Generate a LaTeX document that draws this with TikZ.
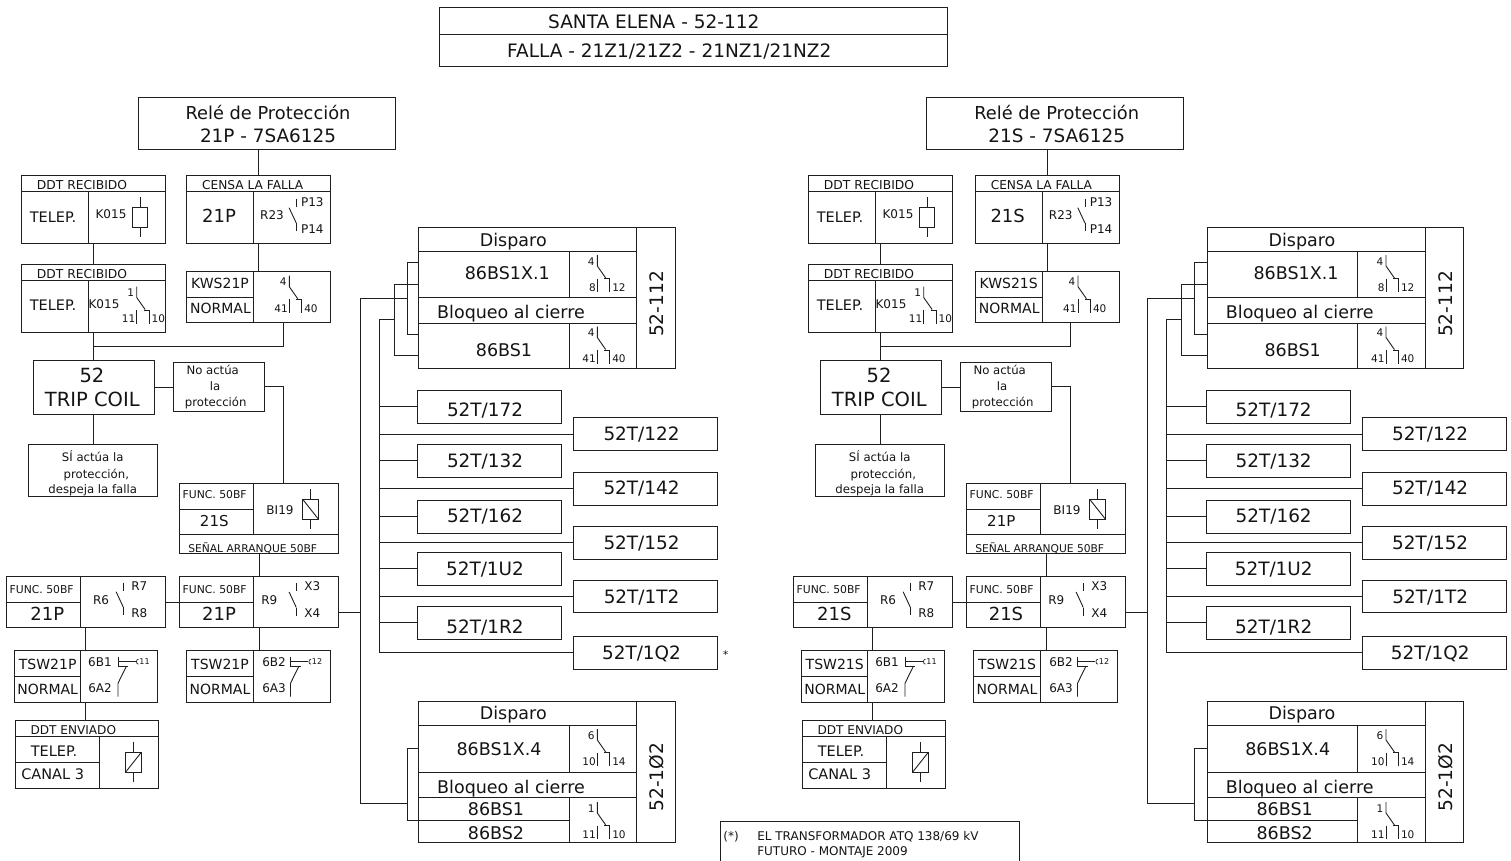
\documentclass[tikz,border=0pt]{standalone}
\usepackage{fontspec}
\setmainfont{DejaVu Sans}
\newcounter{tn}
\tikzset{
  every picture/.style={x=1pt,y=-1pt},
  ink/.style={draw=black!88,line width=0.9pt},
  bxs/.style={ink,rectangle,inner sep=0pt,outer sep=0pt},
  wire/.style={ink,line cap=butt,line join=miter},
}
% box: name x1 y1 x2 y2
\newcommand\bxx[5]{\node[bxs,minimum width={(#4-(#2))*1pt},minimum height={(#5-(#3))*1pt}] (#1) at ({(#2+#4)/2},{(#3+#5)/2}) {};}
% divider: x1 y1 x2 y2
\newcommand\dv[4]{\draw[wire] (#1,#2) -- (#3,#4);}
% text: [anchor] x ycentre size text
\newcommand\lbl[5][base]{\stepcounter{tn}\node[anchor=#1,inner sep=0pt,outer sep=0pt,text=black!92] (t\number\value{tn}) at ({#2},{#3+0.36*#4}) {\fontsize{#4}{#4}\selectfont #5};}
\newcommand\rlbl[4]{\stepcounter{tn}\node[rotate=90,inner sep=0pt,outer sep=0pt,text=black!92] (t\number\value{tn}) at ({#1},{#2}) {\fontsize{#3}{#3}\selectfont #4};}
% changeover contact: x y top left right
\newcommand\ctc[5]{%
  \draw[wire] (#1,#2) -- (#1,#2+11) -- (#1+8.4,#2+23);
  \draw[wire] (#1,#2+23.5) -- (#1,#2+37);
  \draw[wire] (#1+6.8,#2+23.5) -- (#1+12.5,#2+23.5) -- (#1+12.5,#2+37);
  \lbl{#1-6}{#2+6.5}{10.5}{#3}
  \lbl[base east]{#1-1.5}{#2+32.6}{10.5}{#4}
  \lbl[base west]{#1+15}{#2+32.6}{10.5}{#5}
}
% open contact with ticks: x ycentre top bottom
\newcommand\opn[4]{%
  \draw[wire] (#1,#2-17) -- (#1,#2-9);
  \draw[wire] (#1,#2+7.5) -- (#1,#2+15.5);
  \draw[wire] (#1-7.2,#2-8) -- (#1,#2+7.5);
  \lbl{#1+16}{#2-14}{12}{#3}
  \lbl{#1+16}{#2+13.5}{12}{#4}
}
% test switch: x label
\newcommand\tsws[2]{%
  \draw[wire] (#1,656.7) -- (#1,666.7);
  \draw[wire] (#1,661.7) -- (#1+17.5,661.7);
  \draw[wire] (#1,666.7) -- (#1+10,666.7);
  \draw[wire] (#1+8,667) -- (#1,683.3) -- (#1,696.7);
  \draw[wire,line width=0.7pt] (#1+20.5,659.2) .. controls (#1+17.8,659.2) and (#1+17.8,664.2) .. (#1+20.5,664.2);
  \lbl{#1+26.5}{661.7}{8}{#2}
}
% 86 block + 52T boxes: prefix, eight label
\newcommand\blockb[2]{%
  \bxx{#1ba}{418.7}{227.7}{675}{368.3}
  \dv{418.7}{251.3}{636.7}{251.3}
  \dv{418.7}{297.3}{636.7}{297.3}
  \dv{418.7}{323}{636.7}{323}
  \dv{636.7}{227.7}{636.7}{368.3}
  \dv{569}{251.3}{569}{297.3}
  \dv{569}{323}{569}{368.3}
  \lbl{513.3}{240}{17.5}{Disparo}
  \lbl{507.3}{273.3}{17.5}{86BS1X.1}
  \lbl{511}{311.7}{17.5}{Bloqueo al cierre}
  \lbl{504}{350}{17.5}{86BS1}
  \rlbl{656.7}{304}{18.6}{52-112}
  \ctc{597.3}{255}{4}{#2}{12}
  \ctc{597.3}{326.5}{4}{41}{40}
  \bxx{#1bb}{418.7}{701.7}{675}{842.7}
  \dv{418.7}{725.7}{636.7}{725.7}
  \dv{418.7}{772}{636.7}{772}
  \dv{418.7}{797.3}{636.7}{797.3}
  \dv{418.7}{820}{569}{820}
  \dv{636.7}{701.7}{636.7}{842.7}
  \dv{569}{725.7}{569}{772}
  \dv{569}{797.3}{569}{842.7}
  \lbl{513.3}{713.3}{17.5}{Disparo}
  \lbl{499}{749.3}{17.5}{86BS1X.4}
  \lbl{511}{786.7}{17.5}{Bloqueo al cierre}
  \lbl{496}{809.3}{17.5}{86BS1}
  \lbl{496}{832.7}{17.5}{86BS2}
  \rlbl{656.7}{777.3}{18.6}{52-1Ø2}
  \ctc{597.3}{729}{6}{10}{14}
  \ctc{597.3}{802}{1}{11}{10}
  \bxx{#1a1}{417.3}{390.3}{561.3}{423.3}\lbl{485}{409.7}{18.4}{52T/172}
  \bxx{#1a2}{417.3}{444}{561.3}{477.5}\lbl{485}{461}{18.4}{52T/132}
  \bxx{#1a3}{417.3}{500}{561.3}{533}\lbl{485}{516}{18.4}{52T/162}
  \bxx{#1a4}{417.3}{552.3}{561.3}{585.3}\lbl{485}{569.3}{18.4}{52T/1U2}
  \bxx{#1a5}{417.3}{606}{561.3}{639.3}\lbl{485}{626.7}{18.4}{52T/1R2}
  \bxx{#1b1}{573.3}{417.3}{717.7}{450.7}\lbl{641.5}{434}{18.4}{52T/122}
  \bxx{#1b2}{573.3}{472}{717.7}{505}\lbl{641.5}{488}{18.4}{52T/142}
  \bxx{#1b3}{573.3}{526}{717.7}{559.3}\lbl{641.5}{543}{18.4}{52T/152}
  \bxx{#1b4}{573.3}{580}{717.7}{612.7}\lbl{641.5}{597}{18.4}{52T/1T2}
  \bxx{#1b5}{573.3}{636}{717.7}{669.3}\lbl{641.5}{653}{18.4}{52T/1Q2}
}
% Protection relay head, CENSA and KWS: prefix, letter
\newcommand\blockh[2]{%
  \bxx{#1re}{138}{97.7}{395}{149.3}
  \lbl{268}{113}{17.8}{Relé de Protección}
  \lbl{268}{136}{18.4}{21#2 - 7SA6125}
  \bxx{#1ce}{186.7}{175.5}{330.7}{243}
  \dv{186.7}{191.7}{330.7}{191.7}\dv{253.3}{191.7}{253.3}{243}
  \lbl{252.7}{184.7}{12.2}{CENSA LA FALLA}
  \lbl{219}{215.7}{18}{21#2}
  \lbl{272}{214.7}{12}{R23}
  \opn{296.3}{215.7}{P13}{P14}
  \bxx{#1kw}{186.7}{271.7}{330.7}{322.7}
  \dv{253.3}{271.7}{253.3}{322.7}\dv{186.7}{297}{253.3}{297}
  \lbl{220}{283.3}{14}{KWS21#2}
  \lbl{220.5}{308.3}{14}{NORMAL}
  \ctc{289.3}{275.7}{4}{41}{40}
}
% left-hand chain: prefix, own letter, other letter
\newcommand\blocka[3]{%
  \bxx{#1d1}{21.5}{175.5}{165}{243}
  \dv{21.5}{191.7}{165}{191.7}\dv{88}{191.7}{88}{243}
  \lbl{82}{184.7}{12.3}{DDT RECIBIDO}
  \lbl{53}{217}{14.5}{TELEP.}
  \lbl{111}{214}{12}{K015}
  \draw[ink] (132.7,207.7) rectangle (147.3,227);
  \dv{140}{197}{140}{207.7}\dv{140}{227}{140}{237}
  \bxx{#1d2}{21.5}{264.7}{165}{332}
  \dv{21.5}{280.7}{165}{280.7}\dv{88}{280.7}{88}{332}
  \lbl{82}{273.7}{12.3}{DDT RECIBIDO}
  \lbl{53}{305.7}{14.5}{TELEP.}
  \lbl{104}{304}{12}{K015}
  \ctc{136.7}{286.5}{1}{11}{10}
  \bxx{#1tr}{33.3}{360}{154.3}{414}
  \lbl{92}{375.7}{19.5}{52}
  \lbl{92.3}{399.3}{19.5}{TRIP COIL}
  \bxx{#1no}{173}{362.3}{264}{411}
  \lbl{212.7}{370.7}{11.7}{No actúa}
  \lbl{215}{386.7}{11.7}{la}
  \lbl{215.7}{402.7}{11.7}{protección}
  \bxx{#1si}{28.3}{444.3}{157.3}{496}
  \lbl{92.7}{457}{11.7}{SÍ actúa la}
  \lbl{96.3}{474}{11.7}{protección,}
  \lbl{92.7}{489}{11.7}{despeja la falla}
  \bxx{#1bi}{179.7}{483.3}{338.3}{553.3}
  \dv{179.7}{534.7}{338.3}{534.7}\dv{253.3}{483.3}{253.3}{534.7}\dv{179.7}{509}{253.3}{509}
  \lbl{214.7}{494.3}{10.8}{FUNC. 50BF}
  \lbl{214.3}{521.3}{15}{21#3}
  \lbl{280}{510}{12}{BI19}
  \lbl{252.7}{548.3}{10.7}{SEÑAL ARRANQUE 50BF}
  \draw[ink] (302.7,499.3) rectangle (318.3,519);
  \dv{302.7}{499.3}{318.3}{519}
  \dv{310.5}{489}{310.5}{499.3}\dv{310.5}{519}{310.5}{529.3}
  \bxx{#1f1}{6.3}{576.7}{165.3}{627.7}
  \dv{80.7}{576.7}{80.7}{627.7}\dv{6.3}{602.3}{80.7}{602.3}
  \lbl{41.7}{590}{10.8}{FUNC. 50BF}
  \lbl{47.3}{614.3}{18}{21#2}
  \lbl{101}{600}{12}{R6}
  \opn{123.3}{599.7}{R7}{R8}
  \bxx{#1f2}{179.7}{576.7}{338.3}{627.7}
  \dv{253.3}{576.7}{253.3}{627.7}\dv{179.7}{602.3}{253.3}{602.3}
  \lbl{214.7}{590}{10.8}{FUNC. 50BF}
  \lbl{219}{614.3}{18}{21#2}
  \lbl{269.3}{600}{12}{R9}
  \opn{296.3}{600}{X3}{X4}
  \bxx{#1s1}{14}{650.7}{157.7}{702.3}
  \dv{80.7}{650.7}{80.7}{702.3}\dv{14}{676.7}{80.7}{676.7}
  \lbl{47.7}{664.3}{14}{TSW21#2}
  \lbl{47.7}{689}{14}{NORMAL}
  \lbl{100}{662.3}{12}{6B1}
  \lbl{100}{688}{12}{6A2}
  \tsws{118}{11}
  \bxx{#1s2}{186.7}{650.7}{330.7}{702.3}
  \dv{253.3}{650.7}{253.3}{702.3}\dv{186.7}{676.7}{253.3}{676.7}
  \lbl{220}{664.3}{14}{TSW21#2}
  \lbl{220}{689}{14}{NORMAL}
  \lbl{274}{662.3}{12}{6B2}
  \lbl{274}{688}{12}{6A3}
  \tsws{290.5}{12}
  \bxx{#1de}{15}{720.7}{158.7}{788.3}
  \dv{15}{736.7}{158.7}{736.7}\dv{99.7}{736.7}{99.7}{788.3}\dv{15}{762.3}{99.7}{762.3}
  \lbl{73.3}{730}{12.1}{DDT ENVIADO}
  \lbl{54}{751}{14.5}{TELEP.}
  \lbl{52.7}{774.3}{14.5}{CANAL 3}
  \draw[ink] (125.7,752.7) rectangle (141,772);
  \dv{125.7}{772}{141}{752.7}
  \dv{133.3}{742.3}{133.3}{752.7}\dv{133.3}{772}{133.3}{782.3}
}
% connectors: prefix
\newcommand\links[1]{%
  \coordinate (#1kj) at (283,346);
  \coordinate (#1t1) at (360,298.3);
  \coordinate (#1t2) at (379,319.3);
  \coordinate (#1j1) at (407.3,262.3);
  \coordinate (#1j2) at (407.3,334);
  \coordinate (#1j3) at (394,284.3);
  \coordinate (#1j4) at (394,355);
  \coordinate (#1j5) at (407.3,748.3);
  \coordinate (#1j6) at (407.3,820);
  \coordinate (#1j7) at (407.3,803.3);
  \coordinate (#1x4) at (338.3,612.3);
  \draw[wire] (#1ce.north) -- (#1ce.north |- #1re.south);
  \draw[wire] (#1ce.south) -- (#1ce.south |- #1kw.north);
  \draw[wire] (#1d1.south) -- (#1d1.south |- #1d2.north);
  \draw[wire] (#1d2.south) -- (#1d2.south |- #1tr.north);
  \draw[wire] (#1kw.south -| #1kj) -- (#1kj) -- (#1kj -| #1d2.south);
  \draw[wire] (#1tr.south -| #1d2.south) -- (#1si.north -| #1d2.south);
  \draw[wire] (#1tr.east) -- (#1tr.east -| #1no.west);
  \draw[wire] (#1no.east) -| (#1bi.north -| #1kj);
  \draw[wire] (#1bi.south) -- (#1f2.north);
  \draw[wire] (#1f1.east) -- (#1f2.west);
  \draw[wire] (#1f1.south) -- (#1f1.south |- #1s1.north);
  \draw[wire] (#1f2.south) -- (#1f2.south |- #1s2.north);
  \draw[wire] (#1s1.south) -- (#1s1.south |- #1de.north);
  \draw[wire] (#1x4) -- (#1x4 -| #1t1);
  \draw[wire] (#1t1) -- (#1j7 -| #1t1) -- (#1j7);
  \draw[wire] (#1t1) -- (#1t1 -| #1j1);
  \draw[wire] (#1ba.west |- #1j1) -- (#1j1) -- (#1j2) -- (#1ba.west |- #1j2);
  \draw[wire] (#1ba.west |- #1j3) -- (#1j3) -- (#1j4) -- (#1ba.west |- #1j4);
  \draw[wire] (#1t2) -- (#1t2 -| #1j3);
  \draw[wire] (#1t2) -- (#1t2 |- #1b5.west) -- (#1b5.west);
  \foreach \n in {a1,a2,a3,a4,a5,b1,b2,b3,b4}{\draw[wire] (#1\n.west -| #1t2) -- (#1\n.west);}
  \draw[wire] (#1bb.west |- #1j5) -- (#1j5) -- (#1j6) -- (#1bb.west |- #1j6);
}
\begin{document}
\begin{tikzpicture}
\useasboundingbox (0,0) rectangle (1511,861);
% title
\bxx{title}{439}{7.5}{947}{66.3}
\dv{439}{34.8}{947}{34.8}
\lbl{653.8}{22.3}{18.5}{SANTA ELENA - 52-112}
\lbl{669.3}{50.7}{18.5}{FALLA - 21Z1/21Z2 - 21NZ1/21NZ2}
% left side
\blockh{L}{P}
\blockb{L}{8}
\blocka{L}{P}{S}
\links{L}
% asterisk and note
\lbl{725.7}{655}{10.5}{*}
\coordinate (ntl) at (720.7,821);
\coordinate (ntr) at (1019,821);
\coordinate (nbl) at (720.7,861);
\coordinate (nbr) at (1019,861);
\draw[wire] (nbl) -- (ntl) -- (ntr) -- (nbr);
\lbl{731}{836}{12}{(*)}
\lbl[base west]{757.3}{836}{12}{EL TRANSFORMADOR ATQ 138/69 kV}
\lbl[base west]{757.3}{850.7}{12}{FUTURO - MONTAJE 2009}
% right side: boxes on a slightly different offset
\begin{scope}[xshift=788.7pt]
\blockh{R}{S}
\blockb{R}{8\hspace{4.5pt}}
\end{scope}
\begin{scope}[xshift=787pt]
\blocka{R}{S}{P}
\links{R}
\end{scope}
\end{tikzpicture}
\end{document}
